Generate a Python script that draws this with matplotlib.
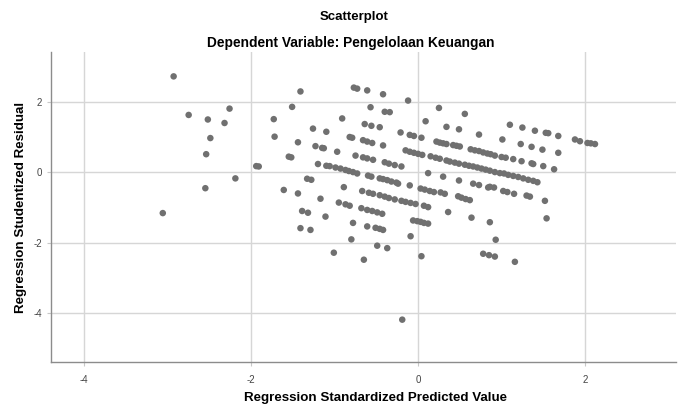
import matplotlib
matplotlib.use("Agg")
import matplotlib.pyplot as plt

plt.rcParams["font.family"] = ["Liberation Sans", "DejaVu Sans"]

# Regression Standardized Predicted Value (x) / Studentized Residual (y)
pred_value = [
    -2.93, -2.26, -2.75, -2.52, -2.32, -2.49, -2.54, -1.94, -1.91, -2.19, -2.55, -3.06,
    -1.41, -1.51, -1.73, -0.91, -1.26, -1.10, -1.72, -1.44, -1.23, -1.15, -1.13, -1.55,
    -1.52, -0.97, -1.20, -1.10, -1.06, -0.99, -0.93, -0.87, -0.83, -1.33, -1.28, -1.61,
    -1.44, -0.89, -1.17, -0.95, -0.87, -0.82, -1.39, -1.32, -1.11, -1.41, -1.29, -0.80,
    -1.01,
    -0.77, -0.73, -0.61, -0.42, -0.12, -0.57, -0.40, -0.34, -0.64, -0.56, -0.46, -0.21,
    -0.10, -0.05, -0.82, -0.79, -0.66, -0.61, -0.55, -0.42, -0.15, -0.10, -0.05, 0.00,
    -0.75, -0.66, -0.61, -0.54, -0.40, -0.35, -0.28, -0.20, -0.78, -0.73, -0.60, -0.56,
    -0.46, -0.42, -0.37, -0.32, -0.26, -0.24, -0.10, -0.67, -0.59, -0.54, -0.46, -0.40,
    -0.35, -0.28, -0.20, -0.15, -0.09, -0.03, -0.68, -0.61, -0.55, -0.49, -0.43, -0.78,
    -0.61, -0.51, -0.46, -0.42, -0.06, -0.01, -0.09, -0.49, -0.37, -0.65,
    0.25, 0.56, 0.09, 0.34, 0.49, 0.73, 0.04, 0.22, 0.26, 0.30, 0.34, 0.42,
    0.46, 0.50, 0.63, 0.68, 0.73, 0.78, 0.83, 0.05, 0.15, 0.21, 0.26, 0.34,
    0.38, 0.44, 0.49, 0.56, 0.61, 0.66, 0.71, 0.76, 0.81, 0.12, 0.30, 0.49,
    0.66, 0.73, 0.84, 0.03, 0.08, 0.14, 0.19, 0.27, 0.32, 0.48, 0.52, 0.57,
    0.62, 0.07, 0.12, 0.36, 0.64, 0.86, 0.03, 0.07, 0.12, 0.04, 0.78, 0.85, 0.92,
    1.10, 1.25, 1.40, 1.53, 1.56, 1.01, 1.23, 1.36, 1.49, 0.87, 0.92, 1.00, 1.05,
    1.14, 1.24, 1.36, 1.38, 1.50, 0.86, 0.92, 0.98, 1.03, 1.08, 1.14, 1.20,
    1.26, 1.32, 1.38, 1.43, 0.86, 0.91, 1.02, 1.07, 1.15, 1.30, 1.34, 1.52,
    1.54, 0.93, 1.16,
    1.68, 1.88, 1.94, 2.03, 2.07, 2.12, 1.68, 1.63,
    -0.19,
]
resid = [
    2.74, 1.82, 1.64, 1.51, 1.41, 0.98, 0.52, 0.18, 0.17, -0.17, -0.45, -1.16,
    2.31, 1.87, 1.52, 1.54, 1.25, 1.16, 1.02, 0.86, 0.75, 0.70, 0.69, 0.45,
    0.43, 0.59, 0.24, 0.19, 0.18, 0.14, 0.11, 0.07, 0.04, -0.18, -0.21, -0.50,
    -0.60, -0.42, -0.75, -0.86, -0.91, -0.95, -1.10, -1.15, -1.26, -1.59, -1.64, -1.91,
    -2.29,
    2.42, 2.39, 2.34, 2.23, 2.05, 1.86, 1.73, 1.72, 1.38, 1.33, 1.29, 1.14,
    1.07, 1.04, 1.01, 0.99, 0.92, 0.88, 0.84, 0.77, 0.63, 0.59, 0.56, 0.53,
    0.48, 0.43, 0.40, 0.36, 0.29, 0.25, 0.21, 0.17, 0.01, -0.03, -0.09, -0.12,
    -0.17, -0.19, -0.22, -0.26, -0.29, -0.32, -0.37, -0.53, -0.58, -0.61, -0.65, -0.69,
    -0.73, -0.77, -0.81, -0.84, -0.87, -0.90, -1.02, -1.07, -1.10, -1.14, -1.18, -1.44,
    -1.54, -1.58, -1.61, -1.64, -1.37, -1.39, -1.82, -2.09, -2.16, -2.49,
    1.84, 1.67, 1.46, 1.30, 1.23, 1.08, 0.99, 0.88, 0.85, 0.83, 0.81, 0.78,
    0.76, 0.74, 0.66, 0.63, 0.61, 0.57, 0.54, 0.50, 0.46, 0.42, 0.39, 0.34,
    0.31, 0.28, 0.25, 0.22, 0.19, 0.17, 0.14, 0.11, 0.08, -0.02, -0.12, -0.23,
    -0.32, -0.36, -0.43, -0.46, -0.49, -0.53, -0.56, -0.57, -0.61, -0.68, -0.72, -0.76,
    -0.79, -0.95, -0.99, -1.13, -1.29, -1.42, -1.41, -1.44, -1.46, -2.39, -2.32, -2.36, -2.40,
    1.36, 1.28, 1.19, 1.13, 1.12, 0.94, 0.81, 0.73, 0.65, 0.52, 0.48, 0.44, 0.42,
    0.38, 0.32, 0.26, 0.24, 0.18, 0.05, 0.01, -0.02, -0.03, -0.07, -0.10, -0.13,
    -0.17, -0.21, -0.24, -0.28, -0.41, -0.43, -0.53, -0.56, -0.61, -0.66, -0.69, -0.81,
    -1.31, -1.92, -2.55,
    1.04, 0.94, 0.89, 0.84, 0.83, 0.81, 0.56, 0.09,
    -4.20,
]

x_ticks = [-4, -2, 0, 2]
y_ticks = [2, 0, -2, -4]

fig = plt.figure(figsize=(6.89, 4.05), dpi=100)
ax = fig.add_axes([0.074, 0.106, 0.907, 0.766])

ax.scatter(pred_value, resid, s=22, color="#707070", edgecolors="none", zorder=3)

ax.set_xlim(-4.40, 3.09)
ax.set_ylim(-5.41, 3.44)
ax.set_xticks(x_ticks)
ax.set_yticks(y_ticks)
ax.set_xticklabels([str(t) for t in x_ticks])
ax.set_yticklabels([str(t) for t in y_ticks])
ax.grid(True, color="#d6d6d6", linewidth=1.0, zorder=0)
ax.tick_params(axis="both", labelsize=7, labelcolor="#444444", length=3,
               width=0.8, color="#c8c8c8")
ax.tick_params(axis="x", pad=6)

for side in ["top", "right"]:
    ax.spines[side].set_visible(False)
for side in ["left", "bottom"]:
    ax.spines[side].set_color("#8c8c8c")
    ax.spines[side].set_linewidth(1.0)

# axis titles (placed in figure coords to match the SPSS layout)
fig.text(375.5 / 689, 1 - 398 / 405, "Regression Standardized Predicted Value",
         ha="center", va="center", fontsize=9.6, fontweight="bold")
fig.text(21 / 689, 1 - 207.5 / 405, "Regression Studentized Residual",
         ha="center", va="center", rotation=90, fontsize=9.6, fontweight="bold")

fig.text(354 / 689, 1 - 17 / 405, "Scatterplot", ha="center", va="center",
         fontsize=9.5, fontweight="bold")
fig.text(351 / 689, 1 - 43 / 405, "Dependent Variable: Pengelolaan Keuangan",
         ha="center", va="center", fontsize=9.9, fontweight="bold")

fig.savefig("out.png", dpi=100)
